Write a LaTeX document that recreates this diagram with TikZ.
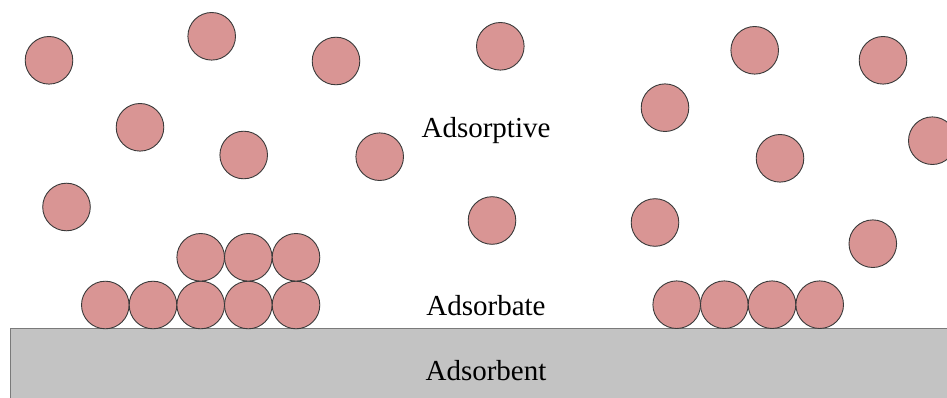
\documentclass[tikz,border=0pt]{standalone}
\usepackage{fontspec}
\setmainfont{Liberation Serif}
\definecolor{molfill}{HTML}{D99594}
\definecolor{molline}{HTML}{3A3A3A}
\definecolor{basefill}{HTML}{C3C3C3}
\definecolor{baseline}{HTML}{7A7A7A}
\tikzset{
  mol/.style={circle, draw=molline, fill=molfill, line width=0.9pt, minimum size=47.6pt, inner sep=0pt},
  lbl/.style={anchor=base, font=\fontsize{29}{34}\selectfont, inner sep=0pt}
}
\begin{document}
\begin{tikzpicture}[x=1pt,y=-1pt]
\useasboundingbox (0,0) rectangle (947,398);
\clip (0,0) rectangle (947,398);
% adsorbent surface
\draw[fill=basefill, draw=baseline, line width=1.5pt] (10.3,328.7) rectangle (970,420);
% free molecules (adsorptive)
\node[mol] (f1) at (49,60.3) {};
\node[mol] (f2) at (211.7,36.3) {};
\node[mol] (f3) at (336,61) {};
\node[mol] (f4) at (500.3,46.3) {};
\node[mol] (f5) at (754.7,50.3) {};
\node[mol] (f6) at (883,60.3) {};
\node[mol] (f7) at (140,127.3) {};
\node[mol] (f8) at (243.7,155) {};
\node[mol] (f9) at (379.7,156.7) {};
\node[mol] (f10) at (665,107.7) {};
\node[mol] (f11) at (780,158.3) {};
\node[mol] (f12) at (932.3,140.7) {};
\node[mol] (f13) at (66.5,207) {};
\node[mol] (f14) at (492,220.5) {};
\node[mol] (f15) at (655,222.5) {};
\node[mol] (f16) at (872.8,243.7) {};
% adsorbed molecules, left
\node[mol] (a1) at (105.3,305) {};
\node[mol] (a2) at (153,305) {};
\node[mol] (a3) at (200.7,305) {};
\node[mol] (a4) at (248.3,305) {};
\node[mol] (a5) at (296,305) {};
\node[mol] (a6) at (200.7,257.3) {};
\node[mol] (a7) at (248.3,257.3) {};
\node[mol] (a8) at (296,257.3) {};
% adsorbed molecules, right
\node[mol] (b1) at (676.7,304.7) {};
\node[mol] (b2) at (724.3,304.7) {};
\node[mol] (b3) at (772,304.7) {};
\node[mol] (b4) at (819.7,304.7) {};
% labels
\node[lbl] (t1) at (486,137.3) {Adsorptive};
\node[lbl] (t2) at (486,315.5) {Adsorbate};
\node[lbl] (t3) at (486,380) {Adsorbent};
\end{tikzpicture}
\end{document}
